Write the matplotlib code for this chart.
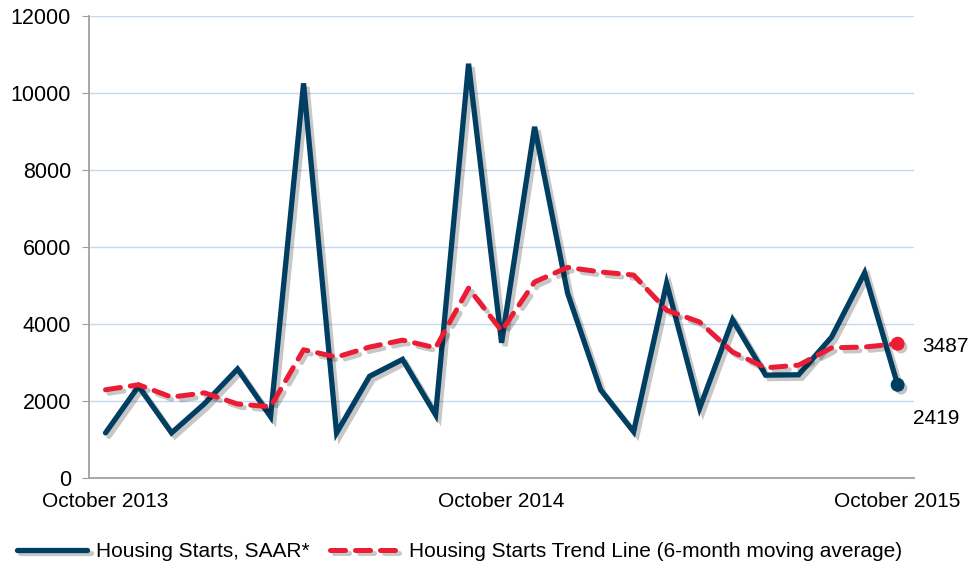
import numpy as np
import matplotlib.pyplot as plt
import matplotlib.patheffects as pe

plt.rcParams['font.family'] = ['Liberation Sans', 'DejaVu Sans']

# monthly data, October 2013 .. October 2015
months = ['Oct 2013', 'Nov 2013', 'Dec 2013', 'Jan 2014', 'Feb 2014', 'Mar 2014',
          'Apr 2014', 'May 2014', 'Jun 2014', 'Jul 2014', 'Aug 2014', 'Sep 2014',
          'Oct 2014', 'Nov 2014', 'Dec 2014', 'Jan 2015', 'Feb 2015', 'Mar 2015',
          'Apr 2015', 'May 2015', 'Jun 2015', 'Jul 2015', 'Aug 2015', 'Sep 2015',
          'Oct 2015']
starts = [1170, 2380, 1170, 1930, 2830, 1590, 10250, 1170, 2640, 3080, 1640, 10760,
          3510, 9120, 4800, 2290, 1200, 5060, 1810, 4110, 2670, 2680, 3660, 5330,
          2419]
trend = [2290, 2420, 2100, 2210, 1920, 1850, 3330, 3140, 3400, 3580, 3380, 4930,
         3820, 5090, 5470, 5350, 5270, 4360, 4050, 3270, 2860, 2930, 3380, 3400,
         3487]
tick_labels = ['October 2013', 'October 2014', 'October 2015']
tick_idx = [0, 12, 24]

blue = '#003E62'
red = '#EC1C35'
shadow = [pe.SimpleLineShadow(offset=(2.5, -2.5), alpha=0.22, shadow_color='black'), pe.Normal()]
dot_shadow = [pe.SimplePatchShadow(offset=(2.5, -2.5), alpha=0.25), pe.Normal()]

fig = plt.figure(figsize=(9.73, 5.71), dpi=100)
ax = fig.add_axes([0.0915, 0.163, 0.848, 0.809])

x = np.arange(len(months))
ax.plot(x, starts, color=blue, lw=3.8, solid_joinstyle='miter', solid_capstyle='round',
        path_effects=shadow, label='Housing Starts, SAAR*', zorder=3)
ax.plot(x, trend, color=red, lw=3.6, dashes=(3.0, 2.0), dash_capstyle='round',
        path_effects=shadow, label='Housing Starts Trend Line (6-month moving average)', zorder=4)

# end points with value labels
ax.plot(x[-1], starts[-1], 'o', color=blue, ms=9, zorder=5, path_effects=dot_shadow)
ax.plot(x[-1], trend[-1], 'o', color=red, ms=9, zorder=6, path_effects=dot_shadow)
ax.annotate(str(trend[-1]), (x[-1], trend[-1]), xytext=(18, -2), textcoords='offset points',
            ha='left', va='center', fontsize=15, annotation_clip=False)
ax.annotate(str(starts[-1]), (x[-1], starts[-1]), xytext=(11, -24), textcoords='offset points',
            ha='left', va='center', fontsize=15, annotation_clip=False)

ax.set_xlim(-0.5, 24.5)
ax.set_ylim(0, 12000)
ax.set_yticks(np.arange(0, 12001, 2000))
ax.set_xticks(tick_idx)
ax.set_xticklabels(tick_labels)
ax.tick_params(axis='y', labelsize=15.5, length=5, color='#a0a0a0', pad=8)
ax.tick_params(axis='x', labelsize=15, length=0, pad=10)

ax.grid(axis='y', color='#c6d9f1', lw=1)
ax.set_axisbelow(True)
for s in ['top', 'right']:
    ax.spines[s].set_visible(False)
for s in ['left', 'bottom']:
    ax.spines[s].set_color('#a0a0a0')
    ax.spines[s].set_linewidth(1.3)

fig.legend(loc='center left', bbox_to_anchor=(0.017, 0.034), ncol=2, frameon=False,
           fontsize=15, handlelength=3.4, handletextpad=0.4, columnspacing=1.0,
           borderpad=0, borderaxespad=0)

fig.savefig('out.png', dpi=100)
